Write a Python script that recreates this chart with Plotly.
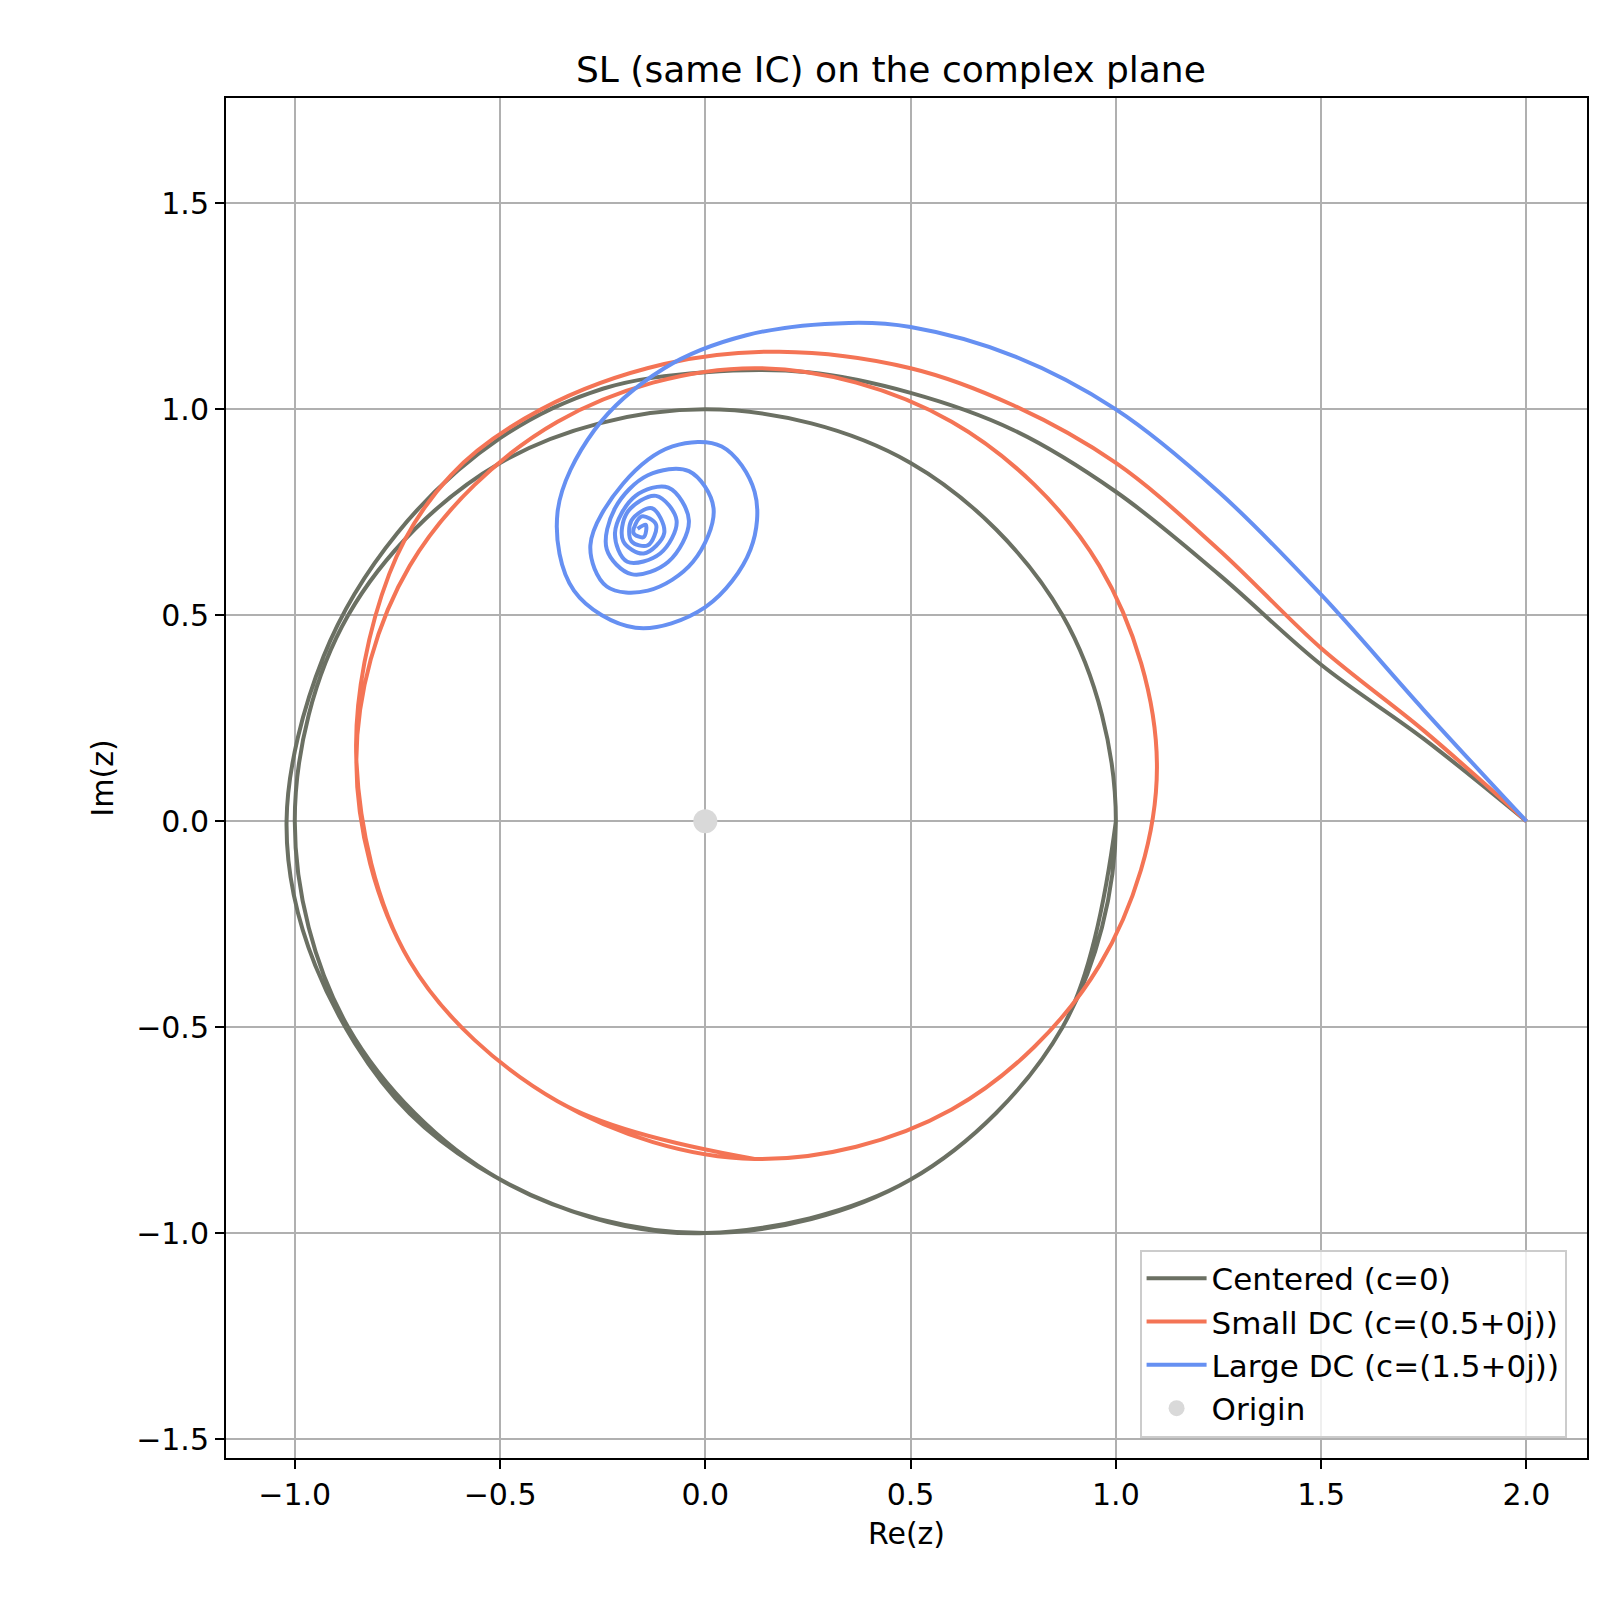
import plotly.graph_objects as go

# trajectories (Re, Im) waypoints
centered = [
    (2.0, 0.0), (1.75, 0.2), (1.5, 0.38), (1.25, 0.6), (1.0, 0.8), (0.75, 0.95),
    (0.5, 1.04), (0.25, 1.09), (0.0, 1.09), (-0.25, 1.05), (-0.5, 0.93),
    (-0.75, 0.7), (-0.93, 0.4), (-1.02, 0.0), (-0.95, -0.35), (-0.72, -0.71),
    (-0.37, -0.93), (0.0, -1.0), (0.5, -0.87), (0.87, -0.5), (1.0, 0.0),
    (0.87, 0.5), (0.5, 0.87), (0.0, 1.0), (-0.5, 0.87), (-0.87, 0.5),
    (-1.0, 0.0), (-0.87, -0.5), (-0.5, -0.87), (0.0, -1.0), (0.5, -0.87),
    (0.87, -0.5), (1.0, 0.0), (0.87, 0.5), (0.5, 0.87), (0.0, 1.0),
    (-0.5, 0.87), (-0.87, 0.5), (-1.0, 0.0), (-0.87, -0.5), (-0.5, -0.87),
    (0.0, -1.0), (0.5, -0.87), (0.87, -0.5), (1.0, 0.0),
]

small_dc = [
    (2.0, 0.0), (1.75, 0.22), (1.5, 0.42), (1.25, 0.66), (1.0, 0.87),
    (0.75, 1.01), (0.5, 1.1), (0.18, 1.14), (-0.1, 1.11), (-0.4, 1.0),
    (-0.62, 0.84), (-0.77, 0.6), (-0.85, 0.15), (-0.72, -0.34), (-0.36, -0.68),
    (0.12, -0.82), (0.6, -0.7), (0.96, -0.35), (1.1, 0.13), (0.96, 0.62),
    (0.6, 0.97), (0.12, 1.1), (-0.36, 0.97), (-0.72, 0.62), (-0.85, 0.15),
    (-0.72, -0.34), (-0.36, -0.68), (0.12, -0.82), (0.6, -0.7), (0.96, -0.35),
    (1.1, 0.13), (0.96, 0.62), (0.6, 0.97), (0.12, 1.1), (-0.36, 0.97),
    (-0.72, 0.62), (-0.85, 0.15), (-0.72, -0.34), (-0.36, -0.68), (0.12, -0.82),
]

large_dc = [
    (2.0, 0.0), (1.75, 0.27), (1.5, 0.55), (1.25, 0.8), (1.0, 1.0), (0.75, 1.13),
    (0.5, 1.2), (0.35, 1.21), (0.1, 1.18), (-0.1, 1.1), (-0.27, 0.95),
    (-0.36, 0.75), (-0.32, 0.56), (-0.17, 0.47), (0.0, 0.52), (0.11, 0.66),
    (0.12, 0.8), (0.04, 0.91), (-0.08, 0.91), (-0.2, 0.82), (-0.28, 0.67),
    (-0.24, 0.57), (-0.14, 0.56), (-0.03, 0.63), (0.02, 0.76), (-0.04, 0.85),
    (-0.14, 0.84), (-0.22, 0.76), (-0.24, 0.66), (-0.18, 0.6), (-0.09, 0.63),
    (-0.04, 0.73), (-0.09, 0.81), (-0.17, 0.79), (-0.22, 0.7), (-0.19, 0.63),
    (-0.11, 0.65), (-0.07, 0.73), (-0.12, 0.79), (-0.19, 0.75), (-0.2, 0.68),
    (-0.15, 0.65), (-0.1, 0.7), (-0.13, 0.76), (-0.18, 0.73), (-0.18, 0.68),
    (-0.14, 0.67), (-0.12, 0.72), (-0.155, 0.74), (-0.175, 0.7), (-0.15, 0.69),
    (-0.145, 0.72), (-0.165, 0.71),
]

fig = go.Figure()
for name, pts, color in [
    ("Centered (c=0)", centered, "#6b7063"),
    ("Small DC (c=(0.5+0j))", small_dc, "#f47455"),
    ("Large DC (c=(1.5+0j))", large_dc, "#6690f2"),
]:
    fig.add_trace(go.Scatter(
        x=[p[0] for p in pts], y=[p[1] for p in pts], mode="lines", name=name,
        line=dict(color=color, width=4, shape="spline", smoothing=1.0)))

fig.add_trace(go.Scatter(x=[0], y=[0], mode="markers", name="Origin",
                         marker=dict(color="#d9d9d9", size=24)))

axis = dict(showline=True, linecolor="black", linewidth=2, mirror=True,
            showgrid=True, gridcolor="#b0b0b0", gridwidth=2, zeroline=False,
            ticks="outside", ticklen=9, tickwidth=2, tickcolor="black",
            tickfont=dict(size=30, color="black"), dtick=0.5,
            tickformat=".1f")
fig.update_layout(
    width=1620, height=1619, plot_bgcolor="white", paper_bgcolor="white",
    font=dict(family="DejaVu Sans", color="black"),
    title=dict(text="SL (same IC) on the complex plane", x=0.545, xanchor="center",
               y=0.97, font=dict(size=36)),
    margin=dict(l=218, r=41, t=90, b=169),
    xaxis=dict(axis, range=[-1.1675, 2.1475],
               title=dict(text="Re(z)", font=dict(size=30), standoff=12)),
    yaxis=dict(axis, range=[-1.546, 1.756],
               title=dict(text="Im(z)", font=dict(size=30), standoff=14)),
    legend=dict(x=0.985, y=0.015, xanchor="right", yanchor="bottom",
                bordercolor="#cccccc", borderwidth=2, bgcolor="rgba(255,255,255,0.8)",
                font=dict(size=31), itemwidth=60, tracegroupgap=4),
)
fig.write_html("out.html")
